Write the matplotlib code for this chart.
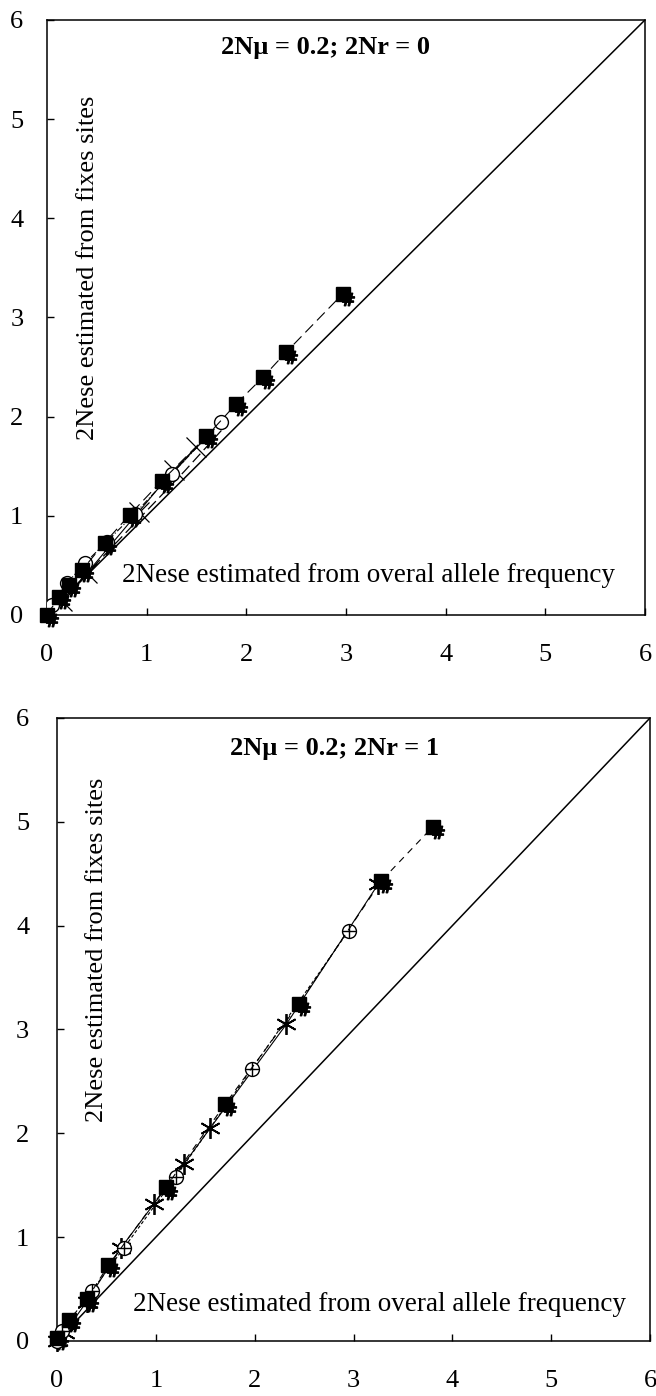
import numpy as np
import matplotlib
matplotlib.use('Agg')
import matplotlib.pyplot as plt

plt.rcParams['font.family'] = ['Liberation Serif', 'DejaVu Serif']

# ---- top panel: 2Nmu = 0.2; 2Nr = 0 ----
top_sq_x = [0, 0.12, 0.22, 0.35, 0.58, 0.83, 1.15, 1.60, 1.90, 2.17, 2.40, 2.97]
top_sq_y = [0, 0.18, 0.30, 0.45, 0.73, 1.01, 1.35, 1.80, 2.13, 2.40, 2.65, 3.24]
top_ci_x = [0, 0.05, 0.20, 0.38, 0.60, 0.88, 1.25, 1.75]
top_ci_y = [0, 0.10, 0.32, 0.52, 0.74, 1.02, 1.42, 1.95]
top_x_x = [0, 0.15, 0.40, 0.92, 1.27, 1.50]
top_x_y = [0, 0.14, 0.42, 1.04, 1.46, 1.69]
top_ln_x = [0, 0.45, 1.00, 1.38, 1.75]
top_ln_y = [0, 0.47, 1.05, 1.45, 1.86]

# ---- bottom panel: 2Nmu = 0.2; 2Nr = 1 ----
bot_sq_x = [0, 0.12, 0.30, 0.52, 1.10, 1.70, 2.45, 3.28, 3.80]
bot_sq_y = [0.03, 0.20, 0.40, 0.73, 1.48, 2.28, 3.25, 4.43, 4.95]
bot_ci_x = [0, 0.05, 0.35, 0.68, 1.20, 1.97, 2.95]
bot_ci_y = [0, 0.10, 0.48, 0.90, 1.58, 2.62, 3.95]
bot_as_x = [0, 0.08, 0.30, 0.65, 0.98, 1.28, 1.55, 2.32, 3.25]
bot_as_y = [0, 0.08, 0.38, 0.90, 1.32, 1.70, 2.05, 3.05, 4.40]

ticks = [0, 1, 2, 3, 4, 5, 6]
xlab = '2Nese estimated from overal allele frequency'
ylab = '2Nese estimated from fixes sites'

fig = plt.figure(figsize=(6.56, 13.96), dpi=100)
ax1 = fig.add_axes([0.0716, 0.5595, 0.9116, 0.4262])
ax2 = fig.add_axes([0.0869, 0.0394, 0.9040, 0.4463])

def style(ax, xpad, ypad):
    ax.set_xlim(0, 6)
    ax.set_ylim(0, 6)
    ax.set_xticks(ticks)
    ax.set_yticks(ticks)
    ax.tick_params(direction='in', length=5, width=1, labelsize=19, top=False, right=False)
    ax.tick_params(axis='x', pad=xpad)
    ax.tick_params(axis='y', pad=ypad)
    for s in ax.spines.values():
        s.set_linewidth(1.1)
    ax.plot([0, 6], [0, 6], color='black', lw=1.1, zorder=2)

def hashes(ax, xs, ys):
    ax.plot(np.array(xs) + 0.05, np.array(ys) - 0.05, ls='none', marker='$\\#$',
            ms=9, color='black', zorder=3, clip_on=False)

style(ax1, 21, 17)
ax1.plot(top_ln_x, top_ln_y, color='black', lw=0.9, dashes=(9, 4), zorder=2)
ax1.plot(top_x_x, top_x_y, color='black', lw=0.8, marker='x', ms=14, mew=0.9, zorder=3)
ax1.plot(top_ci_x, top_ci_y, color='black', lw=0.8, marker='o', ms=10, mfc='white',
         mew=1, dashes=(6, 2, 1, 2), zorder=4)
hashes(ax1, top_sq_x, top_sq_y)
ax1.plot(top_sq_x, top_sq_y, color='black', lw=0.8, marker='s', ms=10.5, dashes=(10, 5),
         zorder=5, clip_on=False)
ax1.text(2.79, 5.72, '2Nμ = 0.2; 2Nr = 0', ha='center', va='center', fontsize=19, fontweight='bold')
ax1.text(0.41, 3.5, ylab, rotation=90, ha='center', va='center', fontsize=19)
ax1.text(3.23, 0.4, xlab, ha='center', va='center', fontsize=19.5)

style(ax2, 21, 20)
ax2.plot(bot_as_x, bot_as_y, color='black', lw=0.8, marker=(6, 2, 0), ms=15, mew=1.3,
         zorder=3, clip_on=False)
ax2.plot(bot_ci_x, bot_ci_y, color='black', lw=0.8, marker='o', ms=10, mfc='white',
         mew=1, dashes=(3, 2), zorder=4, clip_on=False)
ax2.plot(bot_ci_x, bot_ci_y, ls='none', marker='+', ms=10, color='black', mew=1, zorder=4)
hashes(ax2, bot_sq_x, bot_sq_y)
ax2.plot(bot_sq_x, bot_sq_y, color='black', lw=0.8, marker='s', ms=10.5, dashes=(6, 5),
         zorder=5, clip_on=False)
ax2.text(2.81, 5.71, '2Nμ = 0.2; 2Nr = 1', ha='center', va='center', fontsize=19, fontweight='bold')
ax2.text(0.4, 3.77, ylab, rotation=90, ha='center', va='center', fontsize=19)
ax2.text(3.26, 0.35, xlab, ha='center', va='center', fontsize=19.5)

fig.savefig('out.png', dpi=100)
